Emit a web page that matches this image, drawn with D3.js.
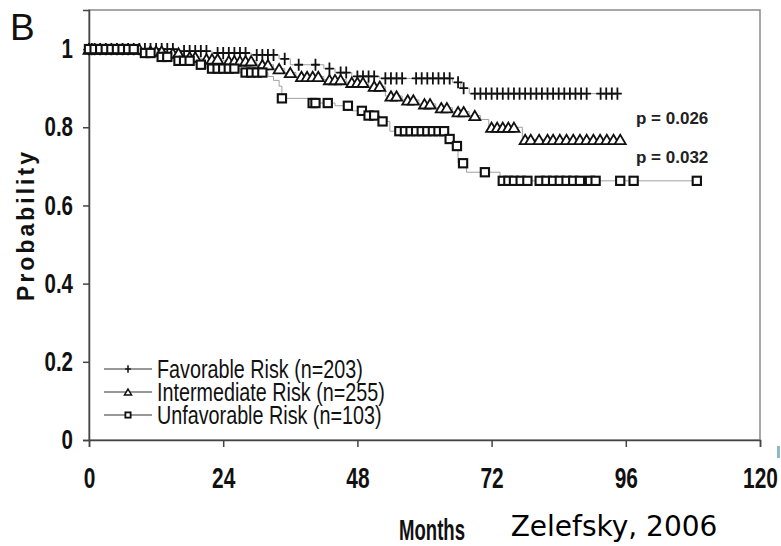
<!DOCTYPE html>
<html>
<head>
<meta charset="utf-8">
<script src="https://cdn.jsdelivr.net/npm/d3@7"></script>
<style>
  body { margin: 0; background: #fff; }
  svg { display: block; }
  text { font-family: "Liberation Sans", Arial, sans-serif; }
</style>
</head>
<body>
<svg id="chart" width="781" height="546"></svg>
<script>
// axis ticks
const monthTicks = [0, 24, 48, 72, 96, 120];
const probTicks = [0, 0.2, 0.4, 0.6, 0.8, 1];

// Kaplan-Meier steps: [month, survival]
const favSteps = [[0, 1], [16, 0.995], [22, 0.99], [29, 0.985], [34, 0.975], [36, 0.96], [42, 0.95], [44, 0.94], [47, 0.93], [52, 0.925], [65, 0.915], [66.5, 0.9], [68, 0.886]];
const intSteps = [[0, 1], [10, 0.995], [14, 0.99], [17, 0.98], [20, 0.975], [24, 0.97], [30, 0.96], [33, 0.95], [35, 0.94], [37, 0.93], [42, 0.922], [46, 0.915], [50, 0.905], [53, 0.88], [56, 0.87], [59, 0.86], [62, 0.85], [65, 0.84], [68, 0.83], [70, 0.82], [71.5, 0.8], [77.5, 0.769]];
const unfSteps = [[0, 1], [9, 0.99], [12, 0.98], [15, 0.97], [19, 0.96], [21, 0.95], [27, 0.94], [32, 0.93], [33, 0.92], [34, 0.905], [34.5, 0.874], [40, 0.862], [44, 0.855], [47, 0.842], [49, 0.83], [52, 0.815], [53.8, 0.79], [64, 0.77], [65, 0.752], [66, 0.708], [67.5, 0.685], [73.5, 0.663]];
const favEnd = 95, intEnd = 95.5, unfEnd = 108.7;

// censored times (months)
const favCensor = [0, 0.5, 1, 2, 3, 4, 5, 6, 7, 8, 9, 10, 11, 12, 13, 14, 15, 17, 18, 19, 20, 21, 23, 24, 25, 26, 27, 28, 30, 31, 32, 33, 35, 37.5, 40.5, 43, 45, 46, 48, 49, 50, 51, 53, 54, 55, 56, 58.5, 59.5, 60.5, 61.5, 62.5, 63.5, 64.5, 66, 67, 69, 70, 71, 72, 73, 74, 75, 76, 77, 78, 79, 80, 81, 82, 83, 84, 85, 86, 87, 88, 89, 91.5, 92.5, 93.5, 94.5];
const intCensor = [0, 1, 2, 3, 4, 5, 6, 7, 8, 9, 11, 12, 13, 15, 16, 18, 19, 21, 22, 23, 25, 26, 27, 28, 29, 31, 32, 34, 36, 38, 39, 40, 41, 43, 44, 45, 47, 48, 49, 51, 52, 54, 55, 57, 58, 60, 61, 63, 64, 66, 67, 69, 72, 73, 74, 75, 76, 78, 79, 80.5, 82, 83, 84.2, 85.4, 86.6, 87.8, 89, 90.2, 91.4, 92.6, 93.8, 95];
const unfCensor = [0, 1, 2, 3, 4, 5, 6, 7, 8, 10, 11, 13, 14, 16, 17, 18, 20, 22, 23, 24, 25, 26, 28, 29, 30, 31, 34.5, 40, 40.5, 42.7, 46.3, 48.8, 50, 51, 52.5, 55.5, 56.5, 57.5, 58.5, 59.5, 60.5, 61.5, 62.5, 63.5, 64.5, 65.8, 66.9, 70.8, 74, 75, 76, 77.2, 78.4, 80.6, 81.8, 83, 84.2, 85.4, 86.6, 87.8, 89.6, 90.6, 95, 97.4, 108.7];

const legendLabels = ["Favorable Risk (n=203)", "Intermediate Risk (n=255)", "Unfavorable Risk (n=103)"];
const pLabels = ["p = 0.026", "p = 0.032"];

const svg = d3.select("#chart");
const x = d3.scaleLinear().domain([0, 120]).range([89, 760]);
const y = d3.scaleLinear().domain([0, 1.1]).range([440, 10]);

// squeeze Liberation Sans into an Arial Narrow look
const narrow = (sel, k = 0.82) => sel.each(function () {
  const w = this.getComputedTextLength();
  d3.select(this).attr("textLength", w * k).attr("lengthAdjust", "spacingAndGlyphs");
});

// frame
svg.append("rect")
  .attr("x", x(0)).attr("y", y(1.1))
  .attr("width", x(120) - x(0)).attr("height", y(0) - y(1.1))
  .attr("fill", "none").attr("stroke", "#8a8a8a").attr("stroke-width", 1.5);

// axes
const xAxis = svg.append("g")
  .attr("transform", `translate(0,${y(0)})`)
  .call(d3.axisBottom(x).tickValues(monthTicks).tickSize(7).tickPadding(20).tickFormat(d3.format("d")));
const yAxis = svg.append("g")
  .attr("transform", `translate(${x(0)},0)`)
  .call(d3.axisLeft(y).tickValues(probTicks).tickSize(6).tickPadding(10).tickFormat(d => d === 0 || d === 1 ? d : d3.format(".1f")(d)));

[xAxis, yAxis].forEach(g => {
  g.select(".domain").attr("stroke", "#444").attr("stroke-width", 1.5);
  g.selectAll(".tick line").attr("stroke", "#444").attr("stroke-width", 1.5);
  g.selectAll("text").attr("fill", "#111").style("font-family", "'Liberation Sans', Arial, sans-serif").style("font-weight", "bold");
});
xAxis.selectAll("text").style("font-size", "29px").call(narrow, 0.72);
yAxis.selectAll("text").style("font-size", "27px").call(narrow, 0.76);

// step curves
const stepLine = d3.line().x(d => x(d[0])).y(d => y(d[1])).curve(d3.curveStepAfter);
const survAt = (steps, t) => { let s = steps[0][1]; steps.forEach(d => { if (d[0] <= t) s = d[1]; }); return s; };

const series = [
  { steps: favSteps, end: favEnd, censor: favCensor, mark: "plus" },
  { steps: intSteps, end: intEnd, censor: intCensor, mark: "tri" },
  { steps: unfSteps, end: unfEnd, censor: unfCensor, mark: "square" }
];

function drawMark(g, type, cx, cy, size, sw) {
  if (type === "plus") {
    g.append("path").attr("d", `M${cx - size * 0.4},${cy}H${cx + size * 0.4}M${cx},${cy - size * 0.55}V${cy + size * 0.55}`)
      .attr("stroke", "#111").attr("stroke-width", sw).attr("fill", "none");
  } else if (type === "tri") {
    const h = size * 0.85, w = size * 0.5;
    g.append("path").attr("d", `M${cx},${cy - h / 2}L${cx + w},${cy + h / 2}L${cx - w},${cy + h / 2}Z`)
      .attr("stroke", "#111").attr("stroke-width", sw).attr("fill", "#fff");
  } else {
    const s = size * 0.75;
    g.append("rect").attr("x", cx - s / 2).attr("y", cy - s / 2).attr("width", s).attr("height", s)
      .attr("stroke", "#111").attr("stroke-width", sw + 0.3).attr("fill", "#fff");
  }
}

series.forEach(s => {
  const pts = s.steps.concat([[s.end, s.steps[s.steps.length - 1][1]]]);
  svg.append("path").datum(pts).attr("d", stepLine)
    .attr("fill", "none").attr("stroke", "#a0a0a0").attr("stroke-width", 1);
});
series.forEach(s => {
  const g = svg.append("g");
  s.censor.forEach(t => drawMark(g, s.mark, x(t), y(survAt(s.steps, t)), 11, 1.8));
});

// legend
const legend = svg.append("g");
legendLabels.forEach((label, i) => {
  const ly = 369 + i * 23;
  legend.append("line").attr("x1", 104).attr("x2", 152).attr("y1", ly).attr("y2", ly)
    .attr("stroke", "#333").attr("stroke-width", 1.2);
  drawMark(legend, series[i].mark, 128, ly, 7, 1.5);
  legend.append("text").attr("x", 157).attr("y", ly).attr("dy", "0.36em")
    .style("font-size", "25px").attr("fill", "#111").text(label).call(narrow, 0.79);
});

// p values
pLabels.forEach((p, i) => {
  svg.append("text").attr("x", 636).attr("y", [118, 157][i]).attr("dy", "0.36em")
    .style("font-size", "17px").style("font-weight", "bold")
    .attr("fill", "#222").text(p);
});

// titles
svg.append("text").attr("x", 10).attr("y", 40)
  .style("font-size", "37px").attr("fill", "#111").text("B");

svg.append("text").attr("transform", "translate(34,225) rotate(-90)").attr("text-anchor", "middle")
  .style("font-size", "23px").style("font-weight", "bold")
  .style("letter-spacing", "3px").attr("fill", "#111").text("Probability");

svg.append("text").attr("x", 432).attr("y", 540).attr("text-anchor", "middle")
  .style("font-size", "29px").style("font-weight", "bold").attr("fill", "#111").text("Months").call(narrow, 0.64);

svg.append("text").attr("x", 614).attr("y", 536).attr("text-anchor", "middle")
  .style("font-family", "'DejaVu Sans', sans-serif").style("font-size", "28px").attr("fill", "#000").text("Zelefsky, 2006");

svg.append("rect").attr("x", 777).attr("y", 446).attr("width", 3).attr("height", 12).attr("fill", "#8fb8c8");
</script>
</body>
</html>
